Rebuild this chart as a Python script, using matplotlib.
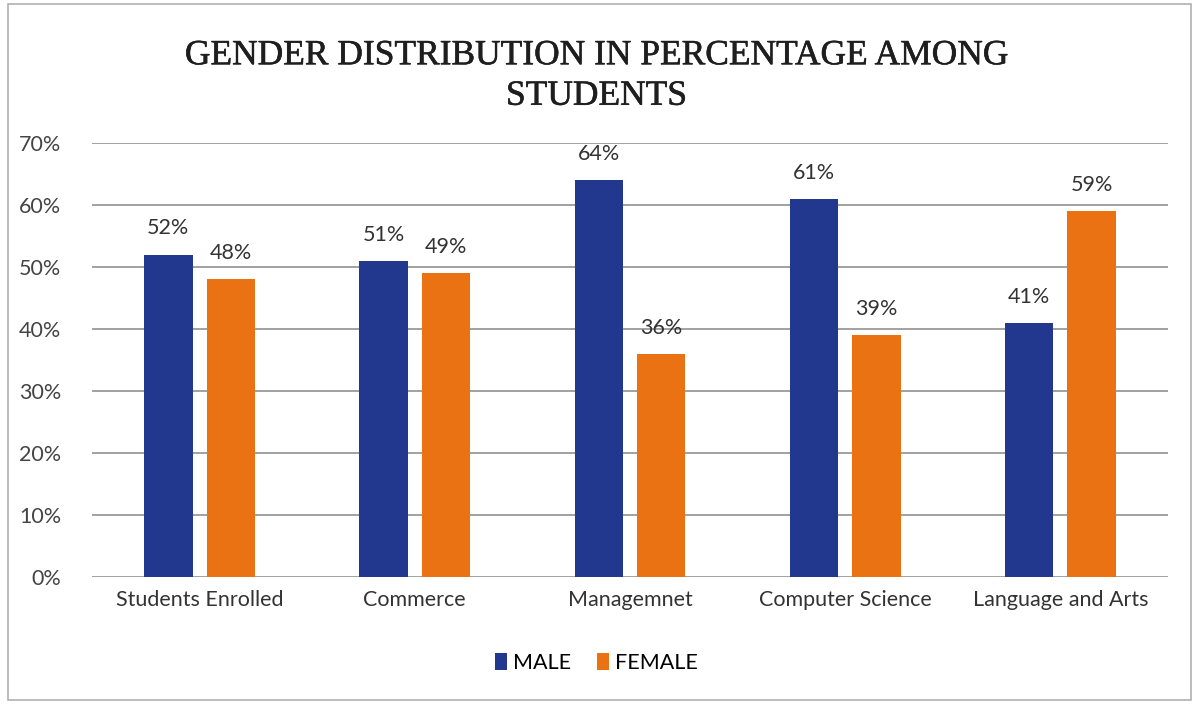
import numpy as np
import matplotlib.pyplot as plt
import matplotlib.patheffects as pe
from matplotlib.patches import Rectangle

categories = ['Students Enrolled', 'Commerce', 'Managemnet', 'Computer Science', 'Language and Arts']
male = [52, 51, 64, 61, 41]
female = [48, 49, 36, 39, 59]

male_color = '#22388f'
female_color = '#ea7212'
fs = 15.5

fig = plt.figure(figsize=(11.93, 7.04), dpi=100)
ax = fig.add_axes([92 / 1193, 1 - 577 / 704, (1168 - 92) / 1193, (577 - 143) / 704])

x = np.arange(len(categories))
w = 0.225
off = 0.145
b1 = ax.bar(x - off, male, w, color=male_color, label='MALE', zorder=3)
b2 = ax.bar(x + off, female, w, color=female_color, label='FEMALE', zorder=3)

for bars, vals in [(b1, male), (b2, female)]:
    for b, v in zip(bars, vals):
        ax.text(b.get_x() + b.get_width() / 2, v + 2.6, f'{v}%', ha='center', va='bottom',
                fontsize=fs, family='Lato', color='#333333')

ax.set_xlim(-0.5, len(categories) - 0.5)
ax.set_ylim(0, 70)
ax.set_yticks(range(0, 71, 10))
ax.set_yticklabels([f'{t}%' for t in range(0, 71, 10)], family='Lato', fontsize=fs, color='#444444')
ax.set_xticks(x)
ax.set_xticklabels(categories, family='Lato', fontsize=fs, color='#333333')
ax.tick_params(length=0, pad=9)
ax.tick_params(axis='y', pad=22)
ax.grid(axis='y', color='#9a9a9a', linewidth=1.3, zorder=0)
for s in ax.spines.values():
    s.set_visible(False)

fig.text(0.5, 1 - 76 / 704, 'GENDER DISTRIBUTION IN PERCENTAGE AMONG\nSTUDENTS', ha='center', va='center',
         family='Liberation Serif', fontsize=25.5, color='#1e1e1e', linespacing=1.3,
         path_effects=[pe.withStroke(linewidth=0.4, foreground='#1e1e1e')])

fig.legend(handles=[b1, b2], loc='center', bbox_to_anchor=(0.5, 1 - 663 / 704), ncol=2, frameon=False,
           prop={'family': 'Lato', 'size': fs}, handlelength=0.55, handleheight=0.8,
           handletextpad=0.3, columnspacing=1.2)

fig.patches.append(Rectangle((8 / 1193, 4 / 704), 1 - 10 / 1193, 1 - 8 / 704, transform=fig.transFigure,
                             fill=False, edgecolor='#b0b0b0', linewidth=1.2))

fig.savefig('out.png', dpi=100)
